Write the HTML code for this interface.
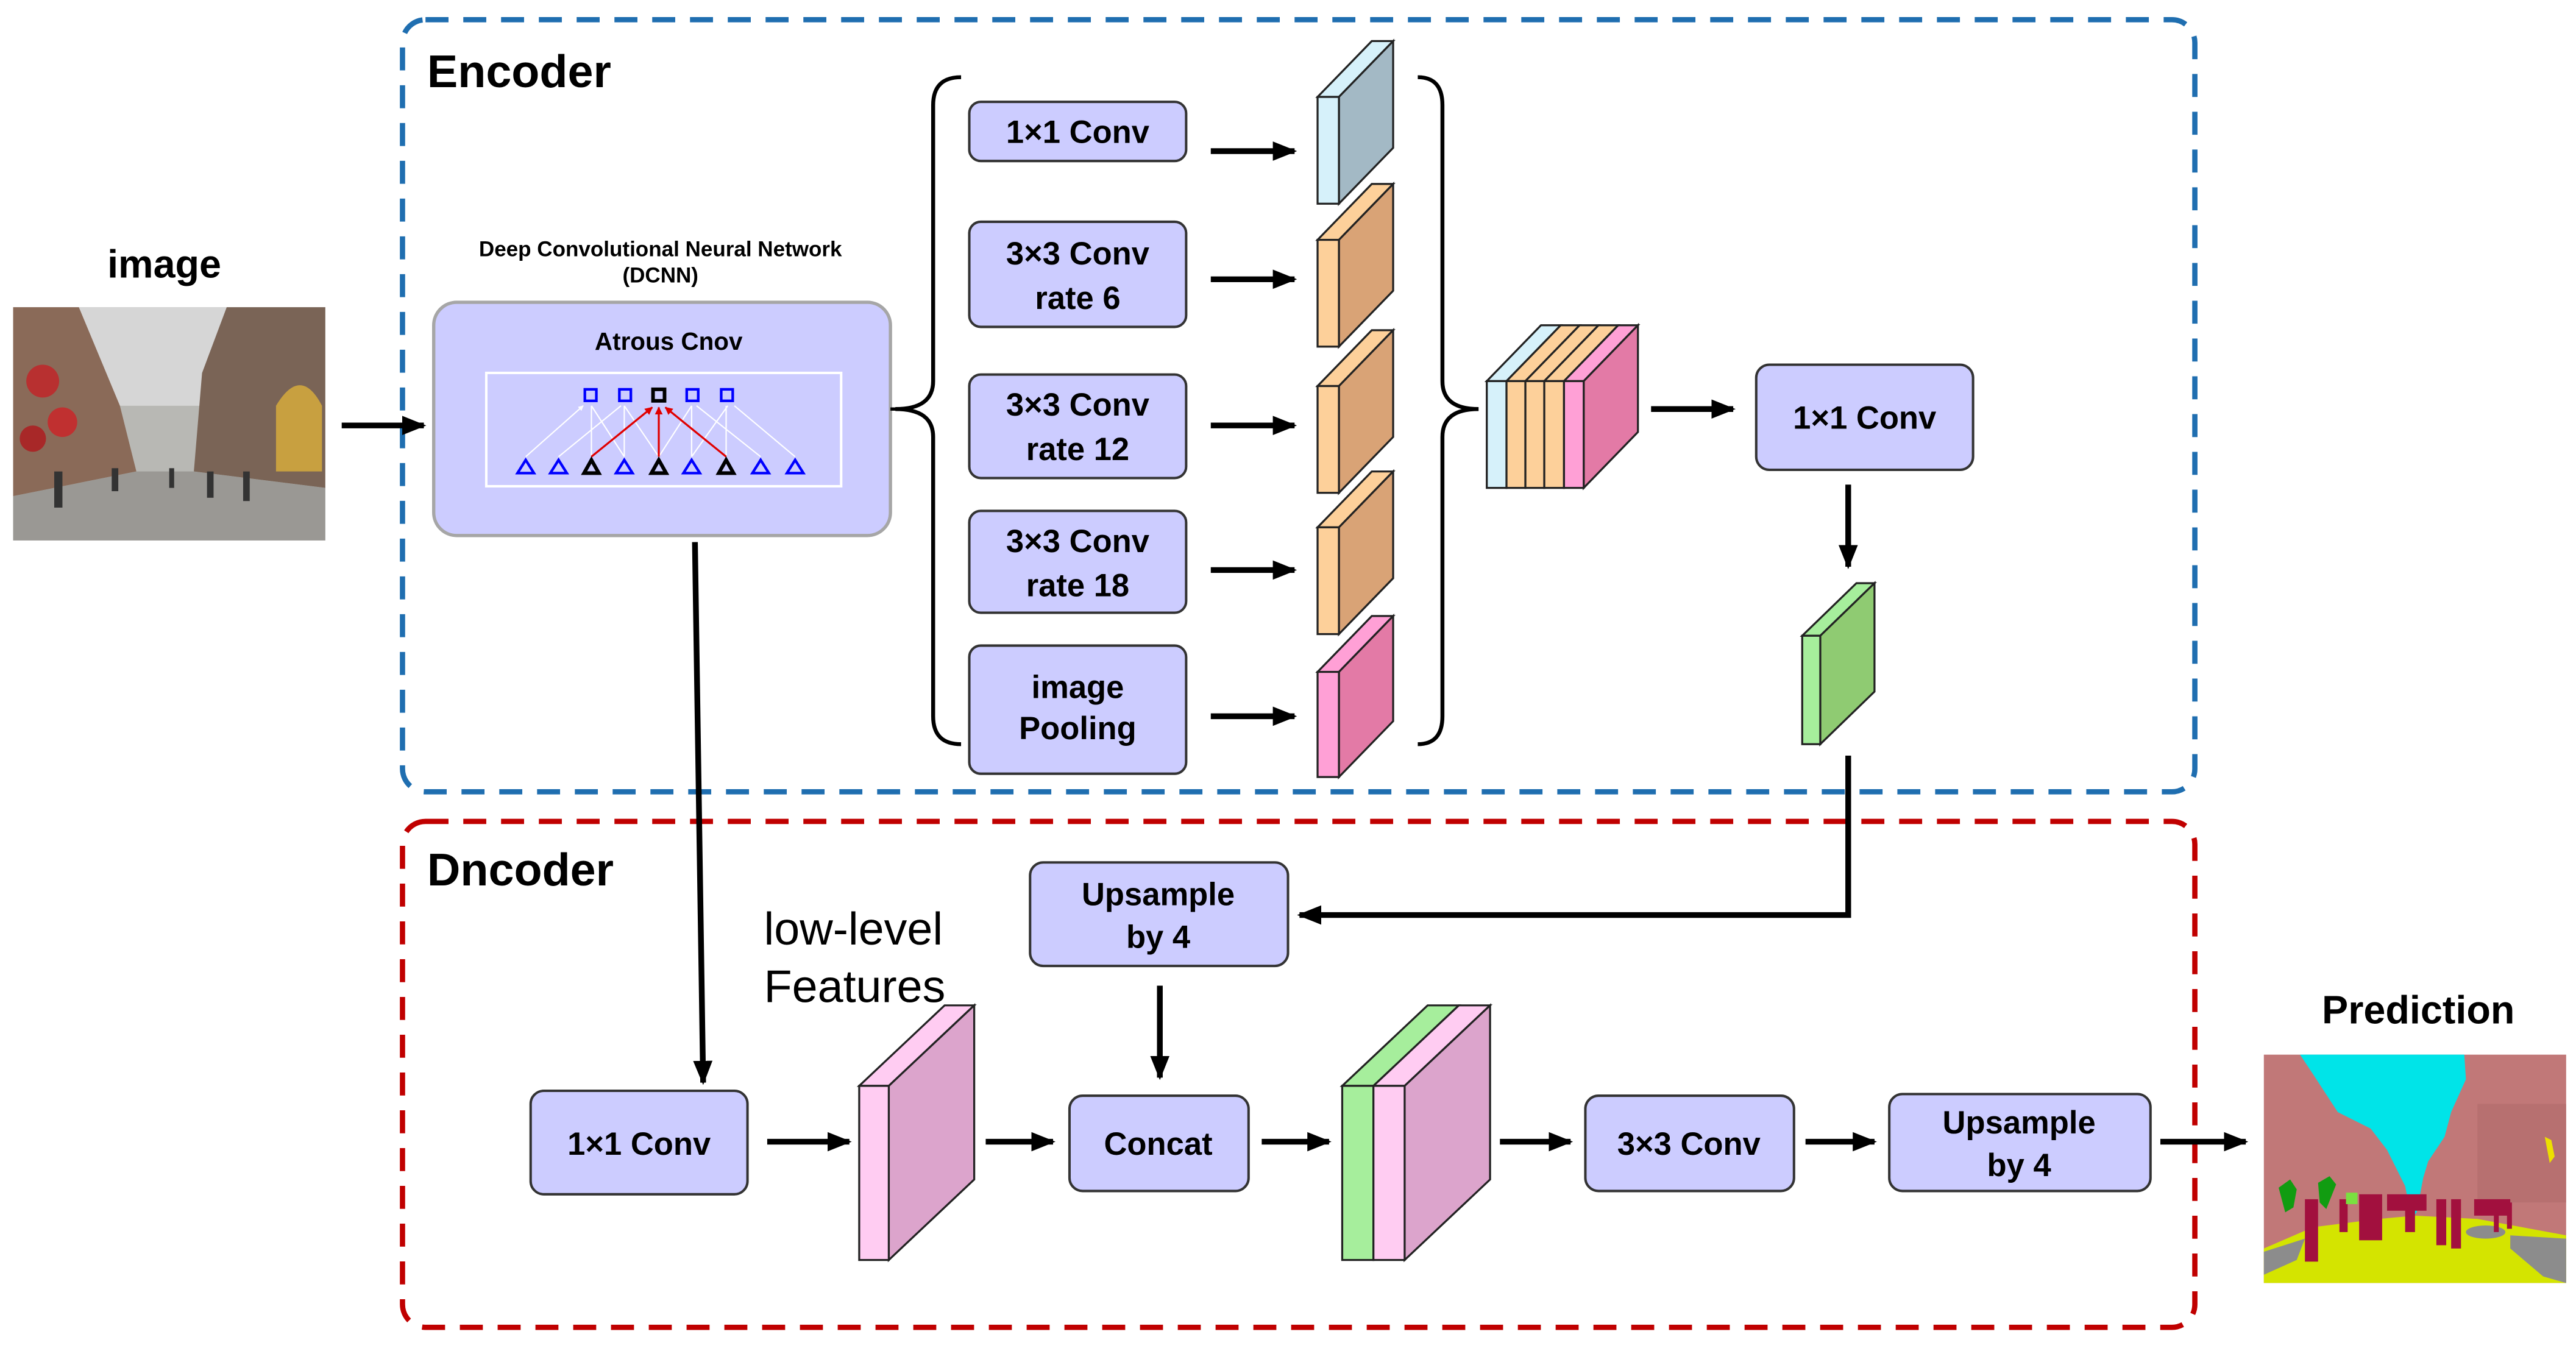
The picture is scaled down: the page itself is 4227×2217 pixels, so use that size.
<!DOCTYPE html>
<html><head><meta charset="utf-8"><style>
html,body{margin:0;padding:0;background:#fff;}
svg{display:block;}
text{font-family:"Liberation Sans",sans-serif;}
.b{font-weight:bold;}
</style></head><body>
<svg width="4227" height="2217" viewBox="0 0 1568 822.4" preserveAspectRatio="none" xmlns="http://www.w3.org/2000/svg">
<defs>
<marker id="ah" viewBox="0 0 10 10" refX="9" refY="5" markerWidth="4.2" markerHeight="4.2" orient="auto" markerUnits="strokeWidth"><path d="M0,1 L10,5 L0,9 z" fill="#000"/></marker>
<marker id="rh" viewBox="0 0 10 10" refX="9" refY="5" markerWidth="4" markerHeight="4" orient="auto" markerUnits="strokeWidth"><path d="M0,0 L10,5 L0,10 z" fill="#e00000"/></marker>
<marker id="wh" viewBox="0 0 10 10" refX="9" refY="5" markerWidth="4" markerHeight="4" orient="auto" markerUnits="strokeWidth"><path d="M0,0 L10,5 L0,10 z" fill="#fff"/></marker>
</defs>
<rect width="1568" height="822.4" fill="#fff"/>

<rect x="245" y="12" width="1091" height="470" rx="14" fill="none" stroke="#1f6eb0" stroke-width="3.2" stroke-dasharray="14,9"/>
<rect x="245" y="500" width="1091" height="308" rx="14" fill="none" stroke="#c00000" stroke-width="3.2" stroke-dasharray="14,9"/>
<text x="260" y="53" class="b" font-size="28">Encoder</text>
<text x="260" y="539" class="b" font-size="28">Dncoder</text>

<text x="100" y="169" class="b" font-size="24" text-anchor="middle">image</text>
<g transform="translate(8,187)">
<rect width="190" height="142" fill="#b8b8b4"/>
<rect width="190" height="60" fill="#d6d6d6"/>
<polygon points="0,0 40,0 65,60 75,100 0,115" fill="#8a6a58"/>
<polygon points="190,0 130,0 115,40 110,100 190,110" fill="#7a6456"/>
<circle cx="18" cy="45" r="10" fill="#b83030"/><circle cx="30" cy="70" r="9" fill="#c03030"/><circle cx="12" cy="80" r="8" fill="#a82828"/>
<path d="M160,60 q15,-25 28,0 v40 h-28z" fill="#c8a040"/>
<polygon points="0,115 75,100 110,100 190,110 190,142 0,142" fill="#9a9894"/>
<g fill="#333"><rect x="25" y="100" width="5" height="22"/><rect x="60" y="98" width="4" height="14"/><rect x="95" y="98" width="3" height="12"/><rect x="118" y="100" width="4" height="16"/><rect x="140" y="100" width="4" height="18"/></g>
</g>
<line x1="208" y1="259" x2="258" y2="259" stroke="#000" stroke-width="3.5" marker-end="url(#ah)"/>

<text x="402" y="156" class="b" font-size="13" text-anchor="middle">Deep Convolutional Neural Network</text>
<text x="402" y="172" class="b" font-size="13" text-anchor="middle">(DCNN)</text>
<rect x="264" y="184" width="278" height="142" rx="14" fill="#ccccff" stroke="#a6a6a6" stroke-width="2"/>
<text x="407" y="213" class="b" font-size="15" text-anchor="middle">Atrous Cnov</text>
<rect x="296" y="227" width="216" height="69" fill="none" stroke="#fff" stroke-width="1.5"/>
<g stroke="#fff" stroke-width="0.8" fill="none">
<line x1="320" y1="278" x2="355" y2="247" marker-end="url(#wh)"/>
<line x1="340" y1="278" x2="378" y2="247"/>
<line x1="360" y1="278" x2="360" y2="247"/>
<line x1="380" y1="278" x2="380" y2="247"/>
<line x1="380" y1="278" x2="360" y2="247"/>
<line x1="421" y1="278" x2="443" y2="247"/>
<line x1="421" y1="278" x2="421" y2="247"/>
<line x1="442" y1="278" x2="442" y2="247"/>
<line x1="463" y1="278" x2="424" y2="247"/>
<line x1="484" y1="278" x2="447" y2="247"/>
<line x1="401" y1="278" x2="380" y2="247"/>
<line x1="401" y1="278" x2="421" y2="247"/>
</g>
<g stroke="#e00000" stroke-width="1.2">
<line x1="360" y1="278" x2="397" y2="248" marker-end="url(#rh)"/>
<line x1="401" y1="278" x2="401" y2="248" marker-end="url(#rh)"/>
<line x1="442" y1="278" x2="405" y2="248" marker-end="url(#rh)"/>
</g>
<g fill="none" stroke="#0000ff" stroke-width="1.6">
<rect x="356" y="237" width="7" height="7"/><rect x="377" y="237" width="7" height="7"/><rect x="418" y="237" width="7" height="7"/><rect x="439" y="237" width="7" height="7"/>
</g>
<rect x="397.5" y="237" width="7" height="7" fill="none" stroke="#000" stroke-width="2.2"/>
<g fill="none" stroke="#0000ff" stroke-width="1.6">
<polygon points="320,280 315,288 325,288"/><polygon points="340,280 335,288 345,288"/><polygon points="380,280 375,288 385,288"/><polygon points="421,280 416,288 426,288"/><polygon points="463,280 458,288 468,288"/><polygon points="484,280 479,288 489,288"/>
</g>
<g fill="none" stroke="#000" stroke-width="2.2">
<polygon points="360,280 355.5,288 364.5,288"/><polygon points="401,280 396.5,288 405.5,288"/><polygon points="442,280 437.5,288 446.5,288"/>
</g>

<path d="M585,47 q-17,0 -17,17 v168 q0,17 -23,17 q23,0 23,17 v170 q0,17 17,17" fill="none" stroke="#000" stroke-width="2.4"/>
<line x1="542" y1="249" x2="546" y2="249" stroke="#000" stroke-width="2"/>

<g fill="#ccccff" stroke="#333" stroke-width="1.5">
<rect x="590" y="62" width="132" height="36" rx="7"/>
<rect x="590" y="135" width="132" height="64" rx="7"/>
<rect x="590" y="228" width="132" height="63" rx="7"/>
<rect x="590" y="311" width="132" height="62" rx="7"/>
<rect x="590" y="393" width="132" height="78" rx="7"/>
<rect x="1069" y="222" width="132" height="64" rx="8"/>
<rect x="627" y="525" width="157" height="63" rx="8"/>
<rect x="651" y="667" width="109" height="58" rx="8"/>
<rect x="323" y="664" width="132" height="63" rx="8"/>
<rect x="965" y="667" width="127" height="58" rx="8"/>
<rect x="1150" y="666" width="159" height="59" rx="8"/>
</g>
<g class="b" font-size="19.5" text-anchor="middle" font-weight="bold">
<text x="656" y="87">1×1 Conv</text>
<text x="656" y="161">3×3 Conv</text><text x="656" y="188">rate 6</text>
<text x="656" y="253">3×3 Conv</text><text x="656" y="280">rate 12</text>
<text x="656" y="336">3×3 Conv</text><text x="656" y="363">rate 18</text>
<text x="656" y="425">image</text><text x="656" y="450">Pooling</text>
<text x="1135" y="261">1×1 Conv</text>
<text x="705" y="551">Upsample</text><text x="705" y="577">by 4</text>
<text x="705" y="703">Concat</text>
<text x="389" y="703">1×1 Conv</text>
<text x="1028" y="703">3×3 Conv</text>
<text x="1229" y="690">Upsample</text><text x="1229" y="716">by 4</text>
</g>

<g stroke="#000" stroke-width="3.5" marker-end="url(#ah)">
<line x1="737" y1="92" x2="788" y2="92"/>
<line x1="737" y1="170" x2="788" y2="170"/>
<line x1="737" y1="259" x2="788" y2="259"/>
<line x1="737" y1="347" x2="788" y2="347"/>
<line x1="737" y1="436" x2="788" y2="436"/>
<line x1="1005" y1="249" x2="1055" y2="249"/>
<line x1="1125" y1="295" x2="1125" y2="345"/>
<line x1="706" y1="600" x2="706" y2="656"/>
<line x1="423" y1="330" x2="428" y2="659"/>
<line x1="467" y1="695" x2="517" y2="695"/>
<line x1="600" y1="695" x2="641" y2="695"/>
<line x1="768" y1="695" x2="809" y2="695"/>
<line x1="913" y1="695" x2="956" y2="695"/>
<line x1="1099" y1="695" x2="1141" y2="695"/>
<line x1="1315" y1="695" x2="1367" y2="695"/>
</g>
<polyline points="1125,460 1125,557 791,557" fill="none" stroke="#000" stroke-width="3.5" marker-end="url(#ah)"/>

<g stroke="#222" stroke-width="1.2">
<polygon points="802,59 815,59 848,25 835,25" fill="#d6f1fa"/>
<polygon points="815,59 848,25 848,90 815,124" fill="#a3b9c5"/>
<rect x="802" y="59" width="13" height="65" fill="#d6f1fa"/>
<polygon points="802,146 815,146 848,112 835,112" fill="#fdd09a"/>
<polygon points="815,146 848,112 848,177 815,211" fill="#d9a376"/>
<rect x="802" y="146" width="13" height="65" fill="#fdd09a"/>
<polygon points="802,235 815,235 848,201 835,201" fill="#fdd09a"/>
<polygon points="815,235 848,201 848,266 815,300" fill="#d9a376"/>
<rect x="802" y="235" width="13" height="65" fill="#fdd09a"/>
<polygon points="802,321 815,321 848,287 835,287" fill="#fdd09a"/>
<polygon points="815,321 848,287 848,352 815,386" fill="#d9a376"/>
<rect x="802" y="321" width="13" height="65" fill="#fdd09a"/>
<polygon points="802,409 815,409 848,375 835,375" fill="#ffa0d6"/>
<polygon points="815,409 848,375 848,439 815,473" fill="#e37aa6"/>
<rect x="802" y="409" width="13" height="64" fill="#ffa0d6"/>
<polygon points="905,232 917,232 950,198 938,198" fill="#d6f1fa"/>
<polygon points="917,232 928.5,232 961.5,198 950,198" fill="#fdd09a"/>
<polygon points="928.5,232 940,232 973,198 961.5,198" fill="#fdd09a"/>
<polygon points="940,232 952,232 985,198 973,198" fill="#fdd09a"/>
<polygon points="952,232 964,232 997,198 985,198" fill="#ffa0d6"/>
<polygon points="964,232 997,198 997,263 964,297" fill="#e37aa6"/>
<rect x="905" y="232" width="12" height="65" fill="#d6f1fa"/>
<rect x="917" y="232" width="11.5" height="65" fill="#fdd09a"/>
<rect x="928.5" y="232" width="11.5" height="65" fill="#fdd09a"/>
<rect x="940" y="232" width="12" height="65" fill="#fdd09a"/>
<rect x="952" y="232" width="12" height="65" fill="#ffa0d6"/>
<polygon points="1097,387 1108,387 1141,355 1130,355" fill="#a6ee9c"/>
<polygon points="1108,387 1141,355 1141,421 1108,453" fill="#8fcb72"/>
<rect x="1097" y="387" width="11" height="66" fill="#a6ee9c"/>
<polygon points="523,661 541,661 593,612 575,612" fill="#ffccf2"/>
<polygon points="541,661 593,612 593,718 541,767" fill="#dca4cc"/>
<rect x="523" y="661" width="18" height="106" fill="#ffccf2"/>
<polygon points="817,661 836,661 888,612 869,612" fill="#a6ee9c"/>
<polygon points="836,661 855,661 907,612 888,612" fill="#ffccf2"/>
<polygon points="855,661 907,612 907,718 855,767" fill="#dca4cc"/>
<rect x="817" y="661" width="19" height="106" fill="#a6ee9c"/>
<rect x="836" y="661" width="19" height="106" fill="#ffccf2"/>
</g>

<path d="M863,47 q15,0 15,17 v168 q0,17 22,17 q-22,0 -22,17 v170 q0,17 -15,17" fill="none" stroke="#000" stroke-width="2.4"/>

<text x="465" y="575" font-size="28">low-level</text>
<text x="465" y="610" font-size="28">Features</text>

<text x="1472" y="623" class="b" font-size="24" text-anchor="middle">Prediction</text>
<g transform="translate(1378,642)">
<rect width="184" height="139" fill="#c17878"/>
<polygon points="22,0 122,0 123,15 114,35 110,50 100,65 97,75 93,96 90,100 86,80 75,58 65,45 55,40 45,35 30,12" fill="#00e4e8"/>
<rect x="130" y="30" width="54" height="60" fill="#b06a6a" opacity="0.6"/>
<polygon points="0,118 30,105 70,100 92,98 130,100 184,110 184,139 0,139" fill="#d4e400"/>
<polygon points="0,120 25,112 20,125 0,134" fill="#8c8c8c"/>
<polygon points="150,110 184,112 184,139 170,135 150,118" fill="#8c8c8c"/>
<ellipse cx="135" cy="108" rx="12" ry="4" fill="#8c8c8c"/>
<g fill="#a2103e"><rect x="25" y="88" width="8" height="38"/><rect x="46" y="88" width="5" height="20"/><rect x="58" y="85" width="14" height="28"/><rect x="75" y="85" width="24" height="10"/><rect x="86" y="88" width="6" height="20"/><rect x="105" y="88" width="6" height="28"/><rect x="114" y="88" width="6" height="30"/><rect x="128" y="88" width="22" height="10"/><rect x="140" y="90" width="3" height="18"/><rect x="148" y="90" width="3" height="16"/></g>
<polygon points="9,81 16,76 20,82 18,93 13,96" fill="#119c11"/>
<polygon points="33,78 40,74 44,79 38,94 34,90" fill="#119c11"/>
<rect x="50" y="84" width="7" height="7" fill="#7ae040"/>
<polygon points="171,50 175,52 177,62 174,66" fill="#ece000"/>
</g>
</svg>
</body></html>
